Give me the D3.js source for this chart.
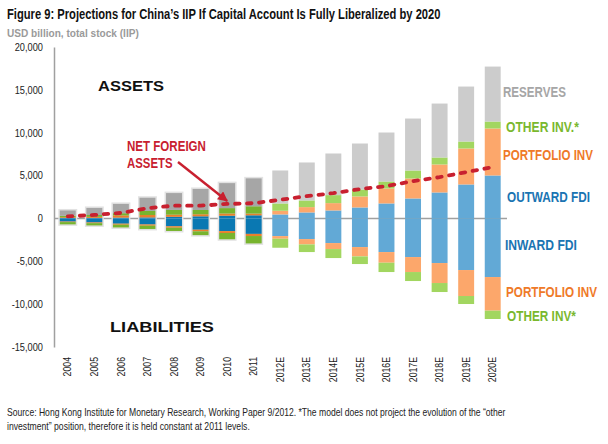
<!DOCTYPE html>
<html><head><meta charset="utf-8">
<script src="https://cdn.jsdelivr.net/npm/d3@7/dist/d3.min.js"></script>
<style>
html,body{margin:0;padding:0;background:#fff;}
svg{display:block;}
</style></head>
<body><div id="chart"></div>
<script>
const years = ["2004","2005","2006","2007","2008","2009","2010","2011","2012E","2013E","2014E","2015E","2016E","2017E","2018E","2019E","2020E"];
// Assets (USD bn)
const outwardFDI   = [53, 65, 91, 116, 186, 246, 317, 364, 466, 699, 932, 1282, 1748, 2331, 3030, 3963, 5012];
const portfolioAss = [92, 117, 265, 285, 253, 243, 257, 204, 428, 622, 855, 1282, 1749, 2331, 3264, 4196, 5478];
const otherAss     = [166, 216, 254, 468, 552, 495, 630, 850, 854, 777, 933, 816, 815, 932, 816, 815, 815];
const reserves     = [619, 826, 1081, 1546, 1966, 2453, 2914, 3256, 3846, 4429, 4856, 5361, 5711, 6061, 6293, 6411, 6411];
// Liabilities (USD bn, positive magnitudes)
const inwardFDI    = [369, 472, 614, 704, 916, 1315, 1477, 1804, 2059, 2409, 2875, 3341, 3924, 4507, 5206, 6022, 6838];
const portfolioLia = [57, 77, 121, 147, 168, 190, 224, 249, 311, 621, 699, 1088, 1243, 1748, 2331, 3030, 3924];
const otherLia     = [267, 267, 315, 378, 380, 442, 730, 862, 1049, 894, 1049, 893, 1088, 1049, 1049, 933, 971];
// Net foreign assets
const netAssets    = [237, 408, 640, 1188, 1494, 1491, 1688, 1775, 2175, 2603, 2953, 3419, 3768, 4351, 4817, 5400, 5983];
const yTicks = [-15000, -10000, -5000, 0, 5000, 10000, 15000, 20000];
const firstProjected = "2012E";

const W = 608, H = 444;
const svg = d3.select("#chart").append("svg").attr("width", W).attr("height", H);
const FONT = "Liberation Sans, Arial, sans-serif";

// place a text at (xx,yy) condensed horizontally to width w
function fitText(txt, xx, yy, w, opts) {
  const t = svg.append("text").attr("x", 0).attr("y", 0).attr("font-family", FONT)
    .attr("font-weight", opts.bold ? "bold" : "normal").attr("font-size", opts.size)
    .attr("fill", opts.fill).text(txt);
  const L = t.node().getComputedTextLength();
  t.attr("transform", `translate(${xx},${yy}) scale(${w / L},1)`);
  return t;
}
function squeeze(sel, f) {
  sel.each(function() {
    const L = this.getComputedTextLength();
    d3.select(this).attr("textLength", L * f).attr("lengthAdjust", "spacingAndGlyphs");
  });
}

const x = d3.scaleBand().domain(years).range([54.5, 506]).paddingInner(0.4).paddingOuter(0.2);
const y = d3.scaleLinear().domain([-15000, 20000]).range([347, 47]);

const keys = ["aFDI","aPort","aOther","aRes","lFDI","lPort","lOther"];
const table = years.map((yr, i) => ({
  year: yr, aFDI: outwardFDI[i], aPort: portfolioAss[i], aOther: otherAss[i], aRes: reserves[i],
  lFDI: -inwardFDI[i], lPort: -portfolioLia[i], lOther: -otherLia[i]
}));
const stack = d3.stack().keys(keys).offset(d3.stackOffsetDiverging)(table);

const histColors = {aFDI:"#0a78b2", aPort:"#e8802c", aOther:"#78b42e", aRes:"#a6a6a6", lFDI:"#0a78b2", lPort:"#e8802c", lOther:"#78b42e"};
const projColors = {aFDI:"#62a9d6", aPort:"#fca76b", aOther:"#a2d660", aRes:"#cccccc", lFDI:"#62a9d6", lPort:"#fca76b", lOther:"#a2d660"};
const projIdx = years.indexOf(firstProjected);

// Title
fitText("Figure 9: Projections for China’s IIP If Capital Account Is Fully Liberalized by 2020", 7, 18.5, 434,
  {bold: true, size: 14, fill: "#111"});
fitText("USD billion, total stock (IIP)", 7, 36.5, 132, {bold: true, size: 11.5, fill: "#9a9a9a"});

// zero line (behind bars)
svg.append("line").attr("x1", 54).attr("x2", 507).attr("y1", y(0)).attr("y2", y(0))
  .attr("stroke", "#a0a0a0").attr("stroke-width", 1.5);

// halo for historical bars
svg.append("g").selectAll("rect").data(table.filter((d, i) => i < projIdx)).join("rect")
  .attr("x", d => x(d.year) - 1.5).attr("width", x.bandwidth() + 3)
  .attr("y", d => y(d.aFDI + d.aPort + d.aOther + d.aRes) - 1.5)
  .attr("height", d => y(d.lFDI + d.lPort + d.lOther) - y(d.aFDI + d.aPort + d.aOther + d.aRes) + 3)
  .attr("fill", "#e2e2e2");

// bars
svg.append("g").selectAll("g").data(stack).join("g")
  .each(function(s) {
    d3.select(this).selectAll("rect").data(s).join("rect")
      .attr("x", d => x(d.data.year))
      .attr("width", x.bandwidth())
      .attr("y", d => y(Math.max(d[0], d[1])))
      .attr("height", d => Math.abs(y(d[0]) - y(d[1])))
      .attr("fill", (d, i) => (i >= projIdx ? projColors : histColors)[s.key]);
  });

// Y axis
const yAxis = svg.append("g").attr("transform", "translate(54,0)")
  .call(d3.axisLeft(y).tickValues(yTicks).tickSize(0).tickSizeOuter(0).tickPadding(11)
    .tickFormat(d => (d < 0 ? "-" : "") + d3.format(",")(Math.abs(d))));
yAxis.select(".domain").attr("stroke", "#a0a0a0").attr("stroke-width", 1.5);
yAxis.selectAll("text").attr("font-family", FONT).attr("font-size", 10.5).attr("fill", "#222");
squeeze(yAxis.selectAll("text"), 0.88);

// X axis labels
const xAxis = svg.append("g").attr("transform", "translate(0,347)")
  .call(d3.axisBottom(x).tickSize(0).tickSizeOuter(0));
xAxis.select(".domain").remove();
xAxis.selectAll("text").attr("font-family", FONT).attr("font-size", 10.5).attr("fill", "#222")
  .attr("transform", "rotate(-90)").attr("text-anchor", "end")
  .attr("x", -10).attr("y", 0).attr("dy", "0.35em");
squeeze(xAxis.selectAll("text"), 0.83);

// net foreign assets line
const line = d3.line().x((d, i) => x(years[i]) + x.bandwidth() / 2).y(d => y(d));
svg.append("path").datum(netAssets).attr("d", line).attr("fill", "none")
  .attr("stroke", "#c8202f").attr("stroke-width", 3.8).attr("stroke-linecap", "round")
  .attr("stroke-dasharray", "4.5,7.5");

// arrow
const defs = svg.append("defs");
defs.append("marker").attr("id", "ah").attr("viewBox", "0 0 10 10").attr("refX", 9).attr("refY", 5)
  .attr("markerWidth", 4.2).attr("markerHeight", 4.2).attr("orient", "auto").attr("markerUnits", "strokeWidth")
  .append("path").attr("d", "M0,0 L10,5 L0,10 Z").attr("fill", "#c8202f");
const i2010 = years.indexOf("2010");
svg.append("line").attr("x1", 178).attr("y1", 162)
  .attr("x2", x("2010") + x.bandwidth() / 2).attr("y2", y(netAssets[i2010]) - 3)
  .attr("stroke", "#c8202f").attr("stroke-width", 2.4).attr("marker-end", "url(#ah)");

// annotations
function label(txt, xx, yy, col, size, w) { fitText(txt, xx, yy, w, {bold: true, size: size, fill: col}); }
label("ASSETS", 98, 90.5, "#111", 15, 66);
label("LIABILITIES", 110, 331.5, "#111", 15, 104);
label("NET FOREIGN", 127, 151, "#c8202f", 14, 79);
label("ASSETS", 127, 167.5, "#c8202f", 14, 45.5);
label("RESERVES", 503, 97, "#a6a6a6", 14, 63);
label("OTHER INV.*", 506, 132, "#7ab82e", 14, 73);
label("PORTFOLIO INV", 503, 160, "#ef7a28", 14, 90);
label("OUTWARD FDI", 507, 202, "#1a74b2", 14, 83);
label("INWARD FDI", 505, 250, "#1a74b2", 14, 72);
label("PORTFOLIO INV", 506, 297, "#ef7a28", 14, 91);
label("OTHER INV*", 507, 321, "#7ab82e", 14, 69);

// source
fitText("Source: Hong Kong Institute for Monetary Research, Working Paper 9/2012. *The model does not project the evolution of the “other",
  7, 415.5, 499, {bold: false, size: 10.5, fill: "#222"});
fitText("investment” position, therefore it is held constant at 2011 levels.", 7, 429.5, 243, {bold: false, size: 10.5, fill: "#222"});
</script>
</body></html>
